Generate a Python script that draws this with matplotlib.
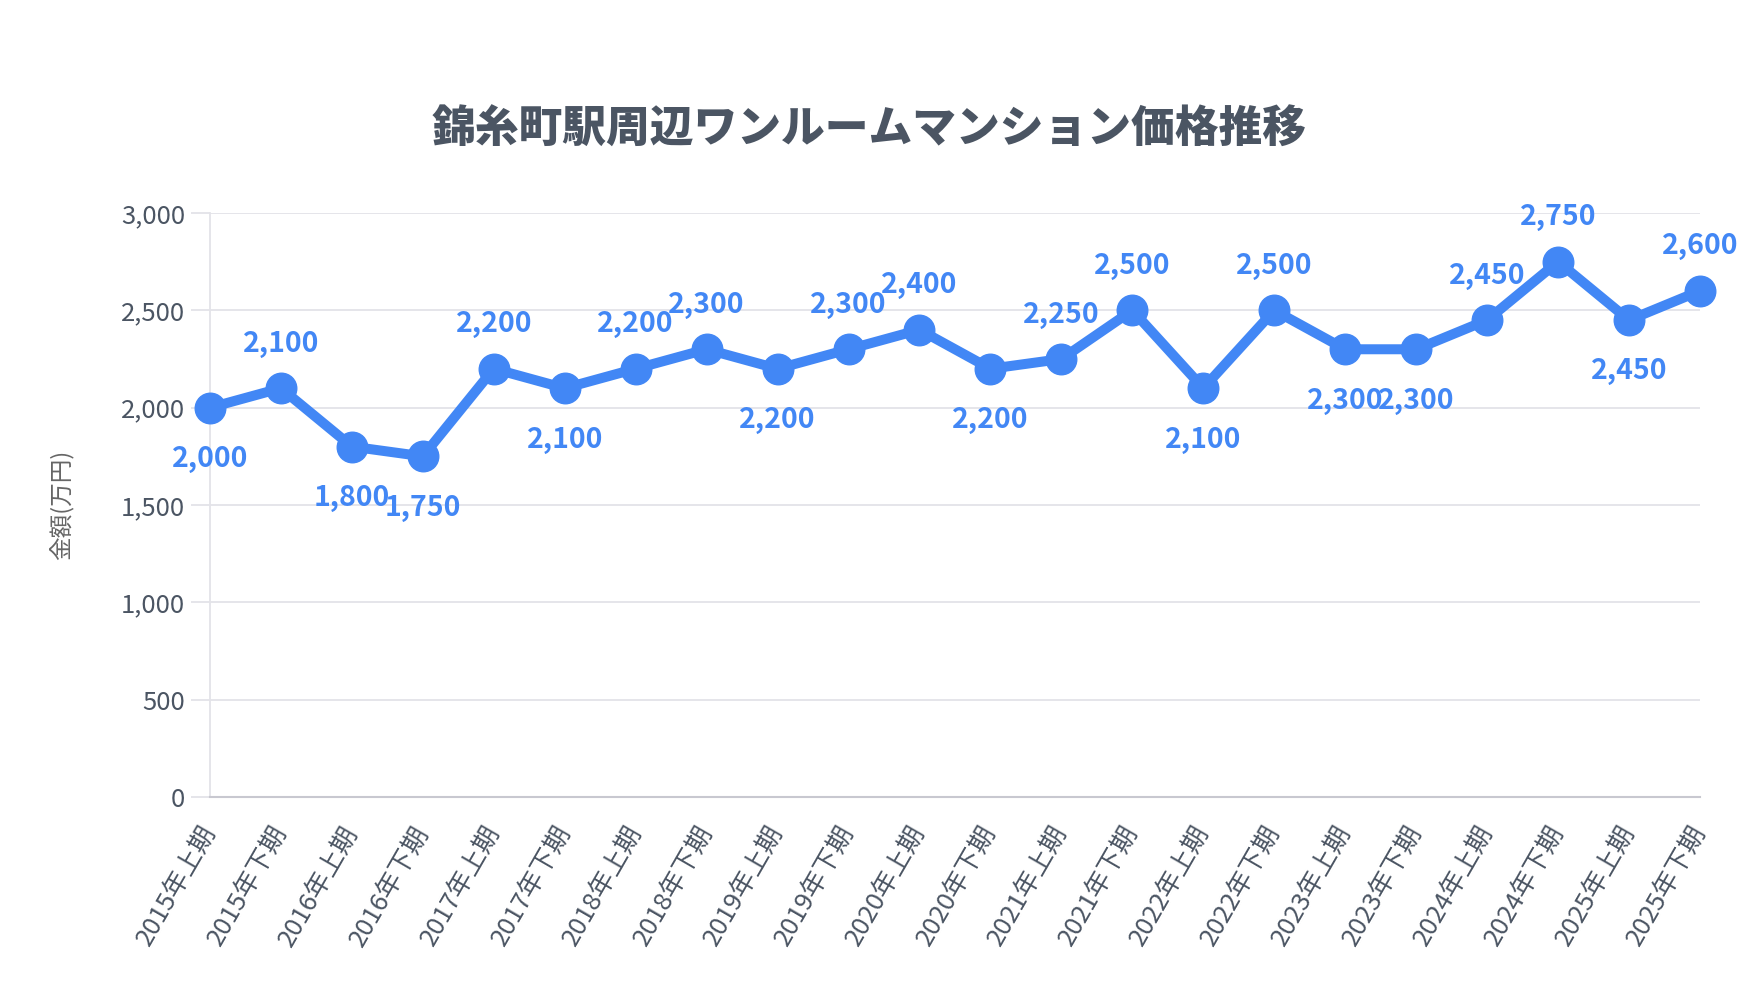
import matplotlib
matplotlib.use("Agg")
import matplotlib.pyplot as plt
from matplotlib.ticker import FuncFormatter, MultipleLocator

plt.rcParams["font.family"] = ["Noto Sans CJK JP", "DejaVu Sans"]

TITLE = "錦糸町駅周辺ワンルームマンション価格推移"
Y_LABEL = "金額(万円)"

periods = [
    "2015年上期", "2015年下期", "2016年上期", "2016年下期",
    "2017年上期", "2017年下期", "2018年上期", "2018年下期",
    "2019年上期", "2019年下期", "2020年上期", "2020年下期",
    "2021年上期", "2021年下期", "2022年上期", "2022年下期",
    "2023年上期", "2023年下期", "2024年上期", "2024年下期",
    "2025年上期", "2025年下期",
]
prices = [
    2000, 2100, 1800, 1750, 2200, 2100, 2200, 2300, 2200, 2300, 2400,
    2200, 2250, 2500, 2100, 2500, 2300, 2300, 2450, 2750, 2450, 2600,
]

BLUE = "#4287f5"
TEXT = "#4b5563"
GRID = "#e3e3e8"

fig = plt.figure(figsize=(17.6, 10), dpi=100)
ax = fig.add_axes([0.1193, 0.203, 0.8466, 0.584])

x = list(range(len(prices)))
ax.plot(x, prices, color=BLUE, lw=7.2, marker="o", ms=22,
        solid_joinstyle="round", clip_on=False, zorder=4)

# label above when the value rose, below otherwise (first one below)
for i, v in enumerate(prices):
    up = i > 0 and v > prices[i - 1]
    ax.annotate(f"{v:,}", (i, v), xytext=(0, 32 if up else -37),
                textcoords="offset points", ha="center", va="center",
                fontsize=20.5, fontweight="bold", color=BLUE, zorder=5)

ax.set_xlim(0, len(prices) - 1)
ax.set_ylim(0, 3000)
ax.yaxis.set_major_locator(MultipleLocator(500))
ax.yaxis.set_major_formatter(FuncFormatter(lambda v, _: f"{int(v):,}"))
ax.set_xticks(x)
ax.set_xticklabels(periods, rotation=60, ha="right", va="center",
                   rotation_mode="anchor")

ax.grid(axis="y", color=GRID, lw=1.3)
ax.set_axisbelow(True)
for side in ("top", "right"):
    ax.spines[side].set_visible(False)
ax.spines["left"].set_color(GRID)
ax.spines["left"].set_linewidth(1.3)
ax.spines["bottom"].set_color("#c8c8d0")
ax.spines["bottom"].set_linewidth(1.5)
ax.tick_params(axis="y", length=14, width=1.3, color=GRID, pad=4,
               labelsize=18.5, labelcolor=TEXT)
ax.tick_params(axis="x", length=0, pad=22, labelsize=18.5, labelcolor=TEXT)

ax.set_ylabel(Y_LABEL, fontsize=17, color="#666666", labelpad=34)
fig.text(0.494, 0.871, TITLE, ha="center", va="center",
         fontsize=31.5, fontweight="heavy", color=TEXT)

fig.savefig("out.png", dpi=100)
